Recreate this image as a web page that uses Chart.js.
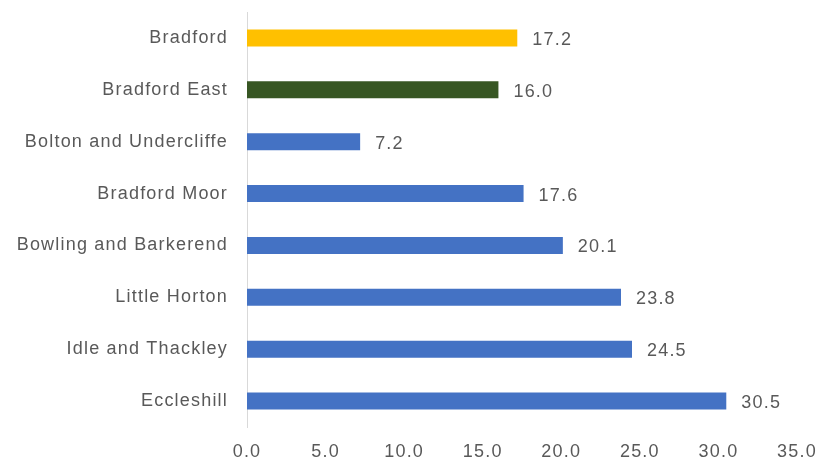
<!DOCTYPE html>
<html>
<head>
<meta charset="utf-8">
<script src="https://cdn.jsdelivr.net/npm/chart.js@4"></script>
<style>
  html, body { margin: 0; padding: 0; background: #fff; }
  #wrap { width: 819px; height: 462px; position: relative; }
</style>
</head>
<body>
<div id="wrap"><canvas id="chart"></canvas></div>
<script>
// --- Data ---
const areas = ['Bradford', 'Bradford East', 'Bolton and Undercliffe', 'Bradford Moor',
    'Bowling and Barkerend', 'Little Horton', 'Idle and Thackley', 'Eccleshill'];
const values = [17.2, 16.0, 7.2, 17.6, 20.1, 23.8, 24.5, 30.5];
const barColors = ['#FFC000', '#375623', '#4472C4', '#4472C4',
    '#4472C4', '#4472C4', '#4472C4', '#4472C4'];

const TEXT = '#595959';
const FONT = "'Liberation Sans', Arial, sans-serif";
const SPACING = '1.2px';

// looser letter spacing, like the office-style rendering
const spacing = {
    id: 'spacing',
    beforeDraw(chart) { chart.ctx.letterSpacing = SPACING; }
};

// draws the value to the right of each bar
const valueLabels = {
    id: 'valueLabels',
    afterDatasetsDraw(chart) {
        const ctx = chart.ctx;
        const meta = chart.getDatasetMeta(0);
        ctx.save();
        ctx.letterSpacing = SPACING;
        ctx.font = '18px ' + FONT;
        ctx.fillStyle = TEXT;
        ctx.textAlign = 'left';
        ctx.textBaseline = 'middle';
        meta.data.forEach((bar, i) => {
            ctx.fillText(values[i].toFixed(1), bar.x + 15, bar.y + 2);
        });
        ctx.restore();
    }
};

new Chart(document.getElementById('chart'), {
    type: 'bar',
    data: {
        labels: areas,
        datasets: [{
            data: values,
            backgroundColor: barColors,
            barPercentage: 0.33,
            categoryPercentage: 1.0,
        }]
    },
    options: {
        indexAxis: 'y',
        responsive: true,
        maintainAspectRatio: false,
        animation: false,
        layout: { padding: { top: 12, right: 22, left: 0, bottom: 0 } },
        plugins: { legend: { display: false }, tooltip: { enabled: false } },
        scales: {
            x: {
                min: 0,
                max: 35,
                ticks: {
                    stepSize: 5,
                    color: TEXT,
                    font: { size: 18, family: FONT },
                    padding: 6,
                    callback: v => Number(v).toFixed(1),
                    maxRotation: 0,
                },
                grid: { display: false },
                border: { display: false },
                afterFit: s => { s.height = 35; s.paddingLeft = 0; s.paddingRight = 0; },
            },
            y: {
                ticks: {
                    color: TEXT,
                    font: { size: 18, family: FONT },
                    padding: 11,
                },
                grid: { display: false },
                border: { display: true, color: '#D9D9D9', width: 1 },
                afterFit: s => { s.width = 247; s.paddingTop = 0; s.paddingBottom = 0; },
            }
        }
    },
    plugins: [spacing, valueLabels]
});
</script>
</body>
</html>
